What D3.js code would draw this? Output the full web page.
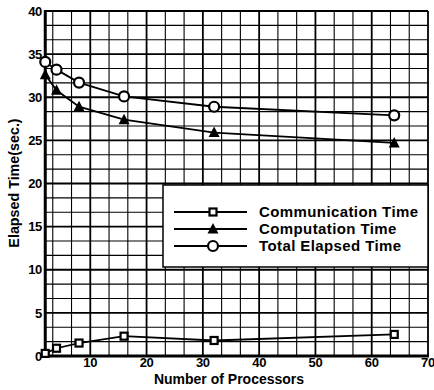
<!DOCTYPE html>
<html>
<head>
<meta charset="utf-8">
<script src="https://cdn.jsdelivr.net/npm/d3@7"></script>
<style>
  body { margin: 0; background: #fff; }
  text { font-family: "Liberation Sans", Arial, sans-serif; font-weight: bold; fill: #000; }
</style>
</head>
<body>
<script>
var width = 434,
    height = 390;

// data
var processors = [2, 4, 8, 16, 32, 64];
var communication = [0.3, 0.9, 1.5, 2.3, 1.8, 2.5];
var computation = [32.6, 30.8, 28.9, 27.4, 25.9, 24.7];
var total = [34.1, 33.2, 31.7, 30.1, 28.9, 27.9];
var xTicks = [10, 20, 30, 40, 50, 60, 70]; // the 0 is shared with the y axis
var yTicks = [0, 5, 10, 15, 20, 25, 30, 35, 40];
var seriesNames = ["Communication Time", "Computation Time", "Total Elapsed Time"];

var x = d3.scaleLinear().domain([0, 70]).range([34, 428]);
var y = d3.scaleLinear().domain([0, 40]).range([356, 11]);
var xStart = 2; // y axis sits at x = 2

var svg = d3.select("body").append("svg")
    .attr("width", width)
    .attr("height", height);

// grid, every third line is a bit heavier
var vLines = d3.range(1, 22).map(function(k) { return k * 10 / 3; });
var hLines = d3.range(1, 25).map(function(k) { return k * 5 / 3; });

svg.append("g").selectAll("line")
    .data(vLines)
  .enter().append("line")
    .attr("x1", function(d) { return x(d); })
    .attr("x2", function(d) { return x(d); })
    .attr("y1", y(0))
    .attr("y2", y(40))
    .attr("stroke", "#000")
    .attr("stroke-width", function(d, i) { return (i + 1) % 3 == 0 ? 1.8 : 1.1; });

svg.append("g").selectAll("line")
    .data(hLines)
  .enter().append("line")
    .attr("x1", x(xStart))
    .attr("x2", x(70))
    .attr("y1", function(d) { return y(d); })
    .attr("y2", function(d) { return y(d); })
    .attr("stroke", "#000")
    .attr("stroke-width", function(d, i) { return (i + 1) % 3 == 0 ? 1.8 : 1.1; });

// axes lines
svg.append("line")
    .attr("x1", x(xStart)).attr("x2", x(xStart))
    .attr("y1", y(40) - 1).attr("y2", y(0) + 1.5)
    .attr("stroke", "#000").attr("stroke-width", 3);
svg.append("line")
    .attr("x1", x(xStart) - 1.5).attr("x2", x(70) + 1)
    .attr("y1", y(0)).attr("y2", y(0))
    .attr("stroke", "#000").attr("stroke-width", 3);

// tick labels
svg.append("g").selectAll("text")
    .data(yTicks)
  .enter().append("text")
    .attr("x", 42)
    .attr("y", function(d) { return y(d); })
    .attr("dy", "0.36em")
    .attr("text-anchor", "end")
    .style("font-size", "13px")
    .style("letter-spacing", "-0.3px")
    .text(function(d) { return d; });

svg.append("g").selectAll("text")
    .data(xTicks)
  .enter().append("text")
    .attr("x", function(d) { return x(d); })
    .attr("y", 367)
    .attr("text-anchor", "middle")
    .style("font-size", "13px")
    .style("letter-spacing", "-0.3px")
    .text(function(d) { return d; });

// axis titles
svg.append("text")
    .attr("x", 229)
    .attr("y", 384)
    .attr("text-anchor", "middle")
    .style("font-size", "14px")
    .text("Number of Processors");

svg.append("text")
    .attr("transform", "translate(19,183) rotate(-90)")
    .attr("text-anchor", "middle")
    .style("font-size", "14.3px")
    .text("Elapsed Time(sec.)");

// series
var line = d3.line()
    .x(function(d) { return x(d[0]); })
    .y(function(d) { return y(d[1]); });

var series = [communication, computation, total].map(function(vals, i) {
  return { name: seriesNames[i], kind: i, points: processors.map(function(p, j) { return [p, vals[j]]; }) };
});

function drawMarker(g, kind, cx, cy) {
  if (kind == 0) {
    g.append("rect")
        .attr("x", cx - 3.5).attr("y", cy - 3.5)
        .attr("width", 7).attr("height", 7)
        .attr("fill", "#fff").attr("stroke", "#000").attr("stroke-width", 2.2);
  } else if (kind == 1) {
    g.append("path")
        .attr("d", "M" + cx + "," + (cy - 6) + "L" + (cx + 5.5) + "," + (cy + 4.5) + "L" + (cx - 5.5) + "," + (cy + 4.5) + "Z")
        .attr("fill", "#000");
  } else {
    g.append("circle")
        .attr("cx", cx).attr("cy", cy).attr("r", 5)
        .attr("fill", "#fff").attr("stroke", "#000").attr("stroke-width", 2.2);
  }
}

series.forEach(function(s) {
  var g = svg.append("g");
  g.append("path")
      .datum(s.points)
      .attr("d", line)
      .attr("fill", "none")
      .attr("stroke", "#000")
      .attr("stroke-width", 1.8);
  s.points.forEach(function(p) { drawMarker(g, s.kind, x(p[0]), y(p[1])); });
});

// legend
var legend = svg.append("g");
legend.append("rect")
    .attr("x", 163).attr("y", 185)
    .attr("width", x(70) - 163).attr("height", 82)
    .attr("fill", "#fff").attr("stroke", "#000").attr("stroke-width", 1.5);

series.forEach(function(s, i) {
  var ly = 212 + i * 17;
  legend.append("line")
      .attr("x1", 174).attr("x2", 247)
      .attr("y1", ly).attr("y2", ly)
      .attr("stroke", "#000").attr("stroke-width", 1.8);
  drawMarker(legend, s.kind, 213, ly);
  legend.append("text")
      .attr("x", 259)
      .attr("y", ly)
      .attr("dy", "0.36em")
      .style("font-size", "15px")
      .style("letter-spacing", "0.4px")
      .text(s.name);
});
</script>
</body>
</html>
